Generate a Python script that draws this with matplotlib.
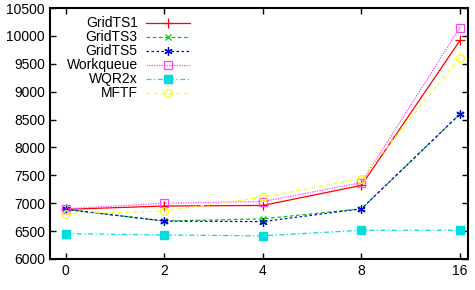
import matplotlib
matplotlib.use("Agg")
import matplotlib.pyplot as plt

plt.rcParams['font.family'] = ['Liberation Sans', 'DejaVu Sans']

x_labels = ["0", "2", "4", "8", "16"]
gridts1 = [6890, 6950, 6960, 7320, 9920]
gridts3 = [6890, 6680, 6720, 6900, 8600]
gridts5 = [6890, 6680, 6670, 6900, 8600]
workqueue = [6900, 7000, 7030, 7370, 10150]
wqr2x = [6455, 6430, 6415, 6515, 6515]
mftf = [6810, 6860, 7110, 7440, 9610]

fig = plt.figure(figsize=(4.75, 2.9), dpi=100)
ax = fig.add_axes([0.105, 0.107, 0.88, 0.865])

xs = range(len(x_labels))
ax.plot(xs, gridts1, color='#ff0000', ls='-', lw=0.9, marker='+', ms=7, mew=0.9, label='GridTS1')
ax.plot(xs, gridts3, color='#00cc00', ls=(0, (3, 2)), lw=0.9, marker='x', ms=5, mew=0.9, label='GridTS3')
ax.plot(xs, gridts5, color='#0000dd', ls=(0, (2, 2)), lw=0.9, marker=(6, 2, 0), ms=6, mew=0.9, label='GridTS5')
ax.plot(xs, workqueue, color='#ff44ff', ls=(0, (1, 1)), lw=0.9, marker='s', ms=5.5, mfc='none', mew=0.9, label='Workqueue')
ax.plot(xs, wqr2x, color='#00dddd', ls=(0, (4, 2, 1, 2)), lw=0.9, marker='s', ms=5.5, label='WQR2x')
ax.plot(xs, mftf, color='#ffff00', ls=(0, (3, 3)), lw=0.9, marker='o', ms=5.5, mfc='none', mew=0.9, label='MFTF')

ax.set_xlim(-0.16, 4.08)
ax.set_ylim(6000, 10500)
ax.set_xticks(list(xs))
ax.set_xticklabels(x_labels)
ax.set_yticks(range(6000, 10501, 500))
ax.tick_params(direction='in', top=True, right=True, labelsize=10, length=4, width=1)
for s in ax.spines.values():
    s.set_linewidth(1.5)

ax.legend(loc='upper left', bbox_to_anchor=(0.02, 1.0), frameon=False, markerfirst=False,
          fontsize=10, handlelength=3.2, labelspacing=0.0, borderaxespad=0.2, handletextpad=0.6)

fig.savefig('out.png', dpi=100)
